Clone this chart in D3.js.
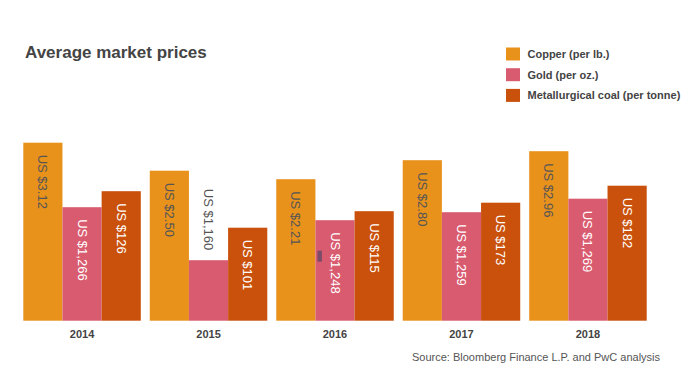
<!DOCTYPE html>
<html>
<head>
<meta charset="utf-8">
<script src="https://cdn.jsdelivr.net/npm/d3@7"></script>
<style>
  body { margin: 0; background: #fff; }
  svg { display: block; font-family: "Liberation Sans", Arial, Helvetica, sans-serif; }
</style>
</head>
<body>
<div id="chart"></div>
<script>
var years = ["2014", "2015", "2016", "2017", "2018"];
var seriesNames = ["Copper (per lb.)", "Gold (per oz.)", "Metallurgical coal (per tonne)"];

// printed labels
var copperLabels = ["US $3.12", "US $2.50", "US $2.21", "US $2.80", "US $2.96"];
var goldLabels = ["US $1,266", "US $1,160", "US $1,248", "US $1,259", "US $1,269"];
var coalLabels = ["US $126", "US $101", "US $115", "US $173", "US $182"];

// bar lengths as drawn (the original is not to a common scale), index 0-180
var copperIndex = [178, 150, 141.5, 160.5, 169.5];
var goldIndex = [113.5, 60.5, 100.5, 108.5, 122];
var coalIndex = [129.5, 93, 109.5, 118, 135];

var colors = ["#e8921c", "#d95b6f", "#c9510c"];

var svgWidth = 700, svgHeight = 378;
var baseline = 320.7;

var svg = d3.select("#chart").append("svg")
    .attr("width", svgWidth).attr("height", svgHeight);

var data = years.map((y, i) => ({
    year: y,
    bars: [
        {s: 0, v: copperIndex[i], label: copperLabels[i]},
        {s: 1, v: goldIndex[i], label: goldLabels[i]},
        {s: 2, v: coalIndex[i], label: coalLabels[i]}
    ]
}));

var x0 = d3.scaleBand().domain(years).range([23.3, 646.7])
    .paddingInner(0.071).paddingOuter(0);
var x1 = d3.scaleBand().domain([0, 1, 2]).range([0, x0.bandwidth()]).padding(0);
var y = d3.scaleLinear().domain([0, 180]).range([baseline, baseline - 180]);

// title
svg.append("text").attr("x", 25).attr("y", 58)
    .attr("font-size", 17).attr("font-weight", "bold").attr("fill", "#444")
    .text("Average market prices");

// legend
var legend = svg.append("g").attr("transform", "translate(506, 47.5)");
seriesNames.forEach((name, i) => {
    var row = legend.append("g").attr("transform", `translate(0, ${i * 20.7})`);
    row.append("rect").attr("width", 14).attr("height", 13).attr("fill", colors[i]);
    row.append("text").attr("x", 21.5).attr("y", 10.5)
        .attr("font-size", 11).attr("font-weight", "bold").attr("fill", "#444")
        .text(name);
});

var groups = svg.selectAll(".yearGroup").data(data).enter().append("g")
    .attr("class", "yearGroup")
    .attr("transform", d => `translate(${x0(d.year)}, 0)`);

groups.selectAll("rect").data(d => d.bars).enter().append("rect")
    .attr("x", d => x1(d.s)).attr("y", d => y(d.v))
    .attr("width", x1.bandwidth()).attr("height", d => baseline - y(d.v))
    .attr("fill", d => colors[d.s]);

groups.selectAll(".valLabel").data(d => d.bars).enter().append("text")
    .attr("class", "valLabel")
    .attr("transform", d => {
        var cx = x1(d.s) + x1.bandwidth() / 2;
        var inside = baseline - y(d.v) > 75;
        var ty = inside ? y(d.v) + 12 : y(d.v) - 10;
        return `translate(${cx}, ${ty}) rotate(90)`;
    })
    .attr("text-anchor", d => (baseline - y(d.v) > 75) ? "start" : "end")
    .attr("dominant-baseline", "central")
    .attr("font-size", 13)
    .attr("fill", d => (baseline - y(d.v) > 75 && d.s > 0) ? "#fff" : "#555")
    .text(d => d.label);

// small dark marker seen on the 2016 gold bar
svg.append("rect")
    .attr("x", x0("2016") + x1(1) + 2).attr("y", y(70))
    .attr("width", 4.5).attr("height", 11)
    .attr("fill", "#7a4c68");

// year labels
svg.selectAll(".yearLabel").data(years).enter().append("text")
    .attr("class", "yearLabel")
    .attr("x", d => x0(d) + x0.bandwidth() / 2).attr("y", 337.5)
    .attr("text-anchor", "middle")
    .attr("font-size", 11).attr("font-weight", "bold").attr("fill", "#444")
    .text(d => d);

svg.append("text").attr("x", 412).attr("y", 360.5)
    .attr("font-size", 11).attr("fill", "#555")
    .text("Source: Bloomberg Finance L.P. and PwC analysis");
</script>
</body>
</html>
